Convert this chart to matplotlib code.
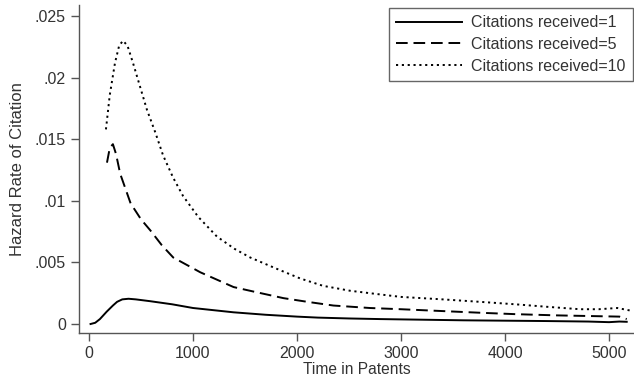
import matplotlib
matplotlib.use('Agg')
import matplotlib.pyplot as plt

plt.rcParams['font.family'] = ['Liberation Sans', 'DejaVu Sans']

# Citations received = 1 (solid)
t1 = [15, 60, 105, 170, 230, 270, 320, 380, 450, 590, 800, 1000, 1390, 1700,
      2000, 2200, 2500, 2800, 3200, 3600, 4000, 4400, 4800, 5000, 5100, 5170]
h1 = [0.0, 0.0001, 0.0004, 0.0010, 0.0015, 0.0018, 0.0020, 0.00205, 0.0020, 0.00185,
      0.0016, 0.0013, 0.00095, 0.00075, 0.0006, 0.00052, 0.00045, 0.0004, 0.00035,
      0.0003, 0.00027, 0.00024, 0.0002, 0.00015, 0.0002, 0.00018]

# Citations received = 5 (dashed)
t5 = [173, 200, 230, 260, 300, 400, 500, 590, 700, 810, 1070, 1390, 1600, 1870,
      2100, 2350, 2700, 3000, 3400, 3800, 4100, 4500, 4800, 5100, 5170]
h5 = [0.0131, 0.0143, 0.0146, 0.0138, 0.0122, 0.0098, 0.0085, 0.0076, 0.0064,
      0.0054, 0.0042, 0.0030, 0.0026, 0.0021, 0.0018, 0.0015, 0.0013, 0.0012,
      0.00105, 0.0009, 0.0008, 0.0007, 0.00065, 0.0006, 0.0004]

# Citations received = 10 (dotted)
t10 = [163, 200, 250, 290, 327, 370, 423, 490, 557, 640, 712, 808, 904, 1050,
       1230, 1400, 1550, 1800, 2030, 2250, 2510, 2800, 3000, 3400, 3760, 4100,
       4400, 4720, 4900, 5080, 5200]
h10 = [0.0158, 0.0186, 0.0212, 0.0226, 0.0230, 0.0226, 0.0212, 0.0193, 0.0174,
       0.0155, 0.0137, 0.0119, 0.0104, 0.0087, 0.0071, 0.0061, 0.0054, 0.0045,
       0.0037, 0.0031, 0.0027, 0.0024, 0.0022, 0.0020, 0.0018, 0.0016, 0.0014,
       0.0012, 0.0012, 0.0013, 0.0011]

fig = plt.figure(figsize=(6.34, 3.76), dpi=100)
ax = fig.add_axes([79 / 634, 43 / 376, 555 / 634, 328 / 376])

ax.plot(t1, h1, color='black', lw=1.4, ls='-', label='Citations received=1')
ax.plot(t5, h5, color='black', lw=1.4, ls=(0, (6, 3)), label='Citations received=5')
ax.plot(t10, h10, color='black', lw=1.4, ls=(0, (1.1, 1.9)), label='Citations received=10')

ax.set_xlim(-96, 5240)
ax.set_ylim(-0.00073, 0.0259)
ax.set_xticks([0, 1000, 2000, 3000, 4000, 5000])
ax.set_yticks([0, 0.005, 0.01, 0.015, 0.02, 0.025])
ax.set_yticklabels(['0', '.005', '.01', '.015', '.02', '.025'])

for s in ['top', 'right']:
    ax.spines[s].set_visible(False)
for s in ['left', 'bottom']:
    ax.spines[s].set_color('#555555')
    ax.spines[s].set_linewidth(1.0)
ax.tick_params(colors='#555555', labelcolor='#333333', labelsize=11.5, length=6, width=1)
ax.tick_params(axis='x', pad=3)

ax.set_xlabel('Time in Patents', fontsize=11.2, color='#333333')
ax.xaxis.set_label_coords(0.5, -0.088)
ax.set_ylabel('Hazard Rate of Citation', fontsize=12, color='#333333', labelpad=7)

leg = ax.legend(loc='upper right', bbox_to_anchor=(0.998, 0.991), borderaxespad=0,
                fontsize=11.5, handlelength=4.1, handletextpad=0.6, labelspacing=0.42,
                fancybox=False, framealpha=1, edgecolor='#666666', borderpad=0.45)
leg.get_frame().set_linewidth(1.0)
for txt in leg.get_texts():
    txt.set_color('#333333')

fig.savefig('out.png', dpi=100)
